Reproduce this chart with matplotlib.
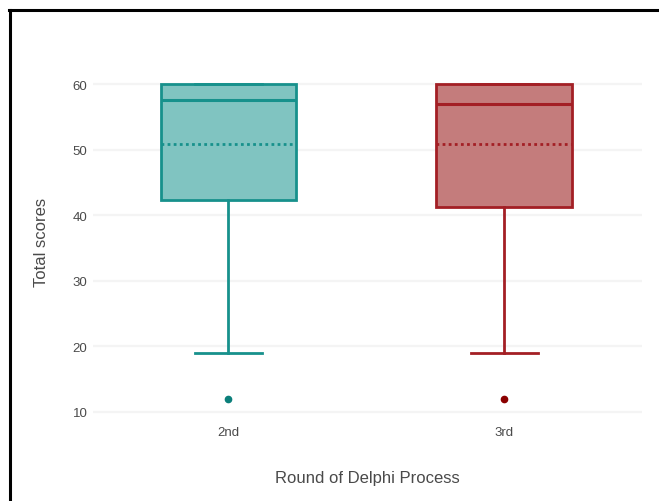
import matplotlib
matplotlib.use("Agg")
import matplotlib.pyplot as plt
from matplotlib.lines import Line2D

# Data
rounds = ["2nd", "3rd"]
q1 = [42.3, 41.3]
median = [57.6, 57.0]
q3 = [60.0, 60.0]
mean = [50.8, 50.8]
whisker_low = [19.0, 19.0]
whisker_high = [60.0, 60.0]
outliers = [[12.0], [12.0]]

edge_colors = ["#17918c", "#a31f25"]
fill_colors = ["#80c4c1", "#c47c7c"]
flier_colors = ["#0b7f7a", "#8b0000"]

plt.rcParams["font.family"] = ["Liberation Sans", "DejaVu Sans"]
text_color = "#4a4a4a"

W, H = 659, 502
fig = plt.figure(figsize=(W / 100, H / 100), dpi=100)
# plot area in pixels: left 93, right 642, top 71.9, bottom 422.8
ax = fig.add_axes([93 / W, 1 - 422.8 / H, (642 - 93) / W, (422.8 - 71.9) / H])

stats = []
for i in range(len(rounds)):
    stats.append({
        "label": rounds[i],
        "q1": q1[i], "med": median[i], "q3": q3[i], "mean": mean[i],
        "whislo": whisker_low[i], "whishi": whisker_high[i],
        "fliers": outliers[i],
    })

for i in range(len(rounds)):
    c = edge_colors[i]
    ax.bxp([stats[i]], positions=[i], widths=0.49, capwidths=0.243,
           patch_artist=True, showmeans=True, meanline=True,
           boxprops=dict(facecolor=fill_colors[i], edgecolor=c, linewidth=2),
           medianprops=dict(color=c, linewidth=2.2),
           meanprops=dict(color=c, linestyle=(0, (1, 1.2)), linewidth=2),
           whiskerprops=dict(color=c, linewidth=2),
           capprops=dict(color=c, linewidth=2),
           flierprops=dict(marker="o", markersize=4.5, markerfacecolor=flier_colors[i],
                           markeredgecolor=flier_colors[i]),
           zorder=3)

ax.set_xlim(-0.49, 1.5)
ax.set_ylim(8.5, 62)
ax.set_yticks([10, 20, 30, 40, 50, 60])
ax.set_xticks([0, 1])
ax.set_xticklabels(rounds)
ax.grid(axis="y", color="#f4f4f4", linewidth=1.6, zorder=0)
ax.set_axisbelow(True)
for s in ax.spines.values():
    s.set_visible(False)
ax.tick_params(length=0, colors=text_color, labelsize=9.5)
ax.tick_params(axis="y", pad=4)
ax.tick_params(axis="x", pad=3)

ax.set_xlabel("Round of Delphi Process", fontsize=12, color=text_color, va="center")
ax.xaxis.set_label_coords(0.5, -(478 - 422.8) / (422.8 - 71.9))
ax.set_ylabel("Total scores", fontsize=12, color=text_color, va="center")
ax.yaxis.set_label_coords(-(93 - 42) / (642 - 93), 0.5 + (71.9 + 350.9 / 2 - 242) / 350.9)

# black frame on left and top of the screenshot
fig.add_artist(Line2D([9.5 / W, 9.5 / W], [0, 1 - 11 / H], color="black", linewidth=2.2))
fig.add_artist(Line2D([8.5 / W, 1], [1 - 11 / H, 1 - 11 / H], color="black", linewidth=2.2))

fig.savefig("out.png", dpi=100)
